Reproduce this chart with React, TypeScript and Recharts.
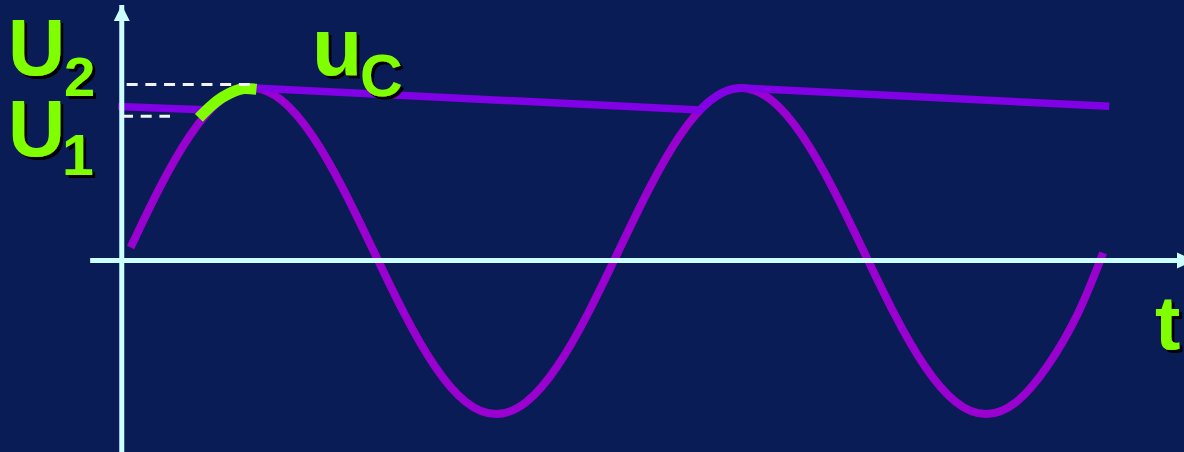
import React from "react";
import { ComposedChart, Line, XAxis, YAxis, ReferenceLine } from "recharts";

// Supply voltage u (sine), sampled in ms / V
const sineTime = [0.36, 1.53, 2.78, 4.03, 5.28, 6.53, 7.78, 9.03, 10.28, 11.53, 12.78, 14.03, 15.28, 16.53, 17.78, 19.03, 20.28, 21.53, 22.78, 24.03, 25.28, 26.53, 27.78, 29.03, 30.28, 31.53, 32.78, 34.03, 35.28, 36.53, 37.78, 39.03, 40.06];
const sineVolts = [0.75, 4.17, 7.23, 9.28, 10.0, 9.28, 7.23, 4.17, 0.55, -3.07, -6.13, -8.18, -8.9, -8.18, -6.13, -3.07, 0.55, 4.17, 7.23, 9.28, 10.0, 9.28, 7.23, 4.17, 0.55, -3.07, -6.13, -8.18, -8.9, -8.18, -6.13, -3.07, 0.44];

// Capacitor voltage uC: discharge ramps joined by charging arcs
const capTime = [-0.15, 3.6, 3.9, 4.2, 4.5, 4.8, 5.1, 5.3, 23.6, 23.9, 24.2, 24.5, 24.8, 25.1, 25.3, 40.31];
const capVolts = [8.92, 8.72, 9.13, 9.46, 9.72, 9.9, 9.98, 10.0, 8.72, 9.13, 9.46, 9.72, 9.9, 9.98, 10.0, 8.94];

// Charging interval from U1 to U2 (highlighted)
const chargeTime = [3.15, 3.6, 4.1, 4.6, 5.0, 5.5];
const chargeVolts = [8.27, 8.9, 9.45, 9.82, 9.97, 9.93];

// Voltage levels
const levelU2 = 10.2;
const levelU1 = 8.36;
const levelU2Start = 0.2;
const levelU2End = 5.24;
const levelU1Start = 0.01;
const levelU1End = 1.97;

// Axis extents
const timeDomain: [number, number] = [-4.97, 43.36];
const voltDomain: [number, number] = [-11.1, 15.1];
const timeAxisStart = -1.29;
const voltAxisTop = 14.81;

const sineData = sineTime.map((t, i) => ({ t, v: sineVolts[i] }));
const capData = capTime.map((t, i) => ({ t, v: capVolts[i] }));
const chargeData = chargeTime.map((t, i) => ({ t, v: chargeVolts[i] }));

const W = 1184;
const H = 452;
const BG = "#0a1c56";
const AXIS = "#ccffff";
const GREEN = "#80ff00";

const Arrow = (props: any) => {
  const { x1, y1, x2, y2 } = props;
  const horizontal = Math.abs(y1 - y2) < 0.5;
  const pts = horizontal
    ? `${x2 - 7},${y2 - 8} ${x2 + 10},${y2} ${x2 - 7},${y2 + 8}`
    : `${x2 - 8},${y2 + 16} ${x2},${y2} ${x2 + 8},${y2 + 16}`;
  return (
    <g>
      <line x1={x1} y1={y1} x2={x2} y2={y2} stroke={AXIS} strokeWidth={5} />
      <polygon points={pts} fill={AXIS} />
    </g>
  );
};

const Label = ({ x, y, size, children }: { x: number; y: number; size: number; children: string }) => (
  <text
    x={x}
    y={y}
    fill={GREEN}
    fontFamily="'Liberation Sans', Arial, sans-serif"
    fontWeight="bold"
    fontSize={size}
    filter="url(#textShadow)"
  >
    {children}
  </text>
);

export default function App() {
  return (
    <div style={{ position: "absolute", left: 0, top: 0, width: W, height: H, background: BG, overflow: "hidden" }}>
      <ComposedChart width={W} height={H} margin={{ top: 0, right: 0, bottom: 0, left: 0 }}>
        <XAxis dataKey="t" type="number" domain={timeDomain} allowDataOverflow hide />
        <YAxis type="number" domain={voltDomain} allowDataOverflow hide />
        <Line data={sineData} dataKey="v" type="natural" stroke="#9a00cf" strokeWidth={8} dot={false} activeDot={false} isAnimationActive={false} />
        <Line data={capData} dataKey="v" type="linear" stroke="#8200e6" strokeWidth={7.5} strokeLinejoin="round" dot={false} activeDot={false} isAnimationActive={false} />
        <Line data={chargeData} dataKey="v" type="natural" stroke={GREEN} strokeWidth={11} dot={false} activeDot={false} isAnimationActive={false} />
        <ReferenceLine
          segment={[{ x: timeAxisStart, y: 0 }, { x: timeDomain[1], y: 0 }]}
          ifOverflow="visible"
          shape={Arrow}
        />
        <ReferenceLine
          segment={[{ x: 0, y: voltDomain[0] }, { x: 0, y: voltAxisTop }]}
          ifOverflow="visible"
          shape={Arrow}
        />
        <ReferenceLine
          segment={[{ x: levelU2Start, y: levelU2 }, { x: levelU2End, y: levelU2 }]}
          ifOverflow="visible"
          stroke="#f2f2f2"
          strokeWidth={3}
          strokeDasharray="11 7.7"
        />
        <ReferenceLine
          segment={[{ x: levelU1Start, y: levelU1 }, { x: levelU1End, y: levelU1 }]}
          ifOverflow="visible"
          stroke="#f2f2f2"
          strokeWidth={3}
          strokeDasharray="11 7.7"
        />
      </ComposedChart>
      <svg width={W} height={H} style={{ position: "absolute", left: 0, top: 0, pointerEvents: "none" }}>
        <defs>
          <filter id="textShadow" x="-20%" y="-20%" width="140%" height="140%">
            <feDropShadow dx={3} dy={3} stdDeviation={0.4} floodColor="#000000" floodOpacity={1} />
          </filter>
        </defs>
        <Label x={8} y={75} size={79}>U</Label>
        <Label x={64} y={96} size={56}>2</Label>
        <Label x={8} y={156} size={79}>U</Label>
        <Label x={62} y={175} size={57}>1</Label>
        <Label x={312} y={75} size={82}>u</Label>
        <Label x={360} y={96} size={59}>C</Label>
        <Label x={1155} y={349} size={76}>t</Label>
      </svg>
    </div>
  );
}
